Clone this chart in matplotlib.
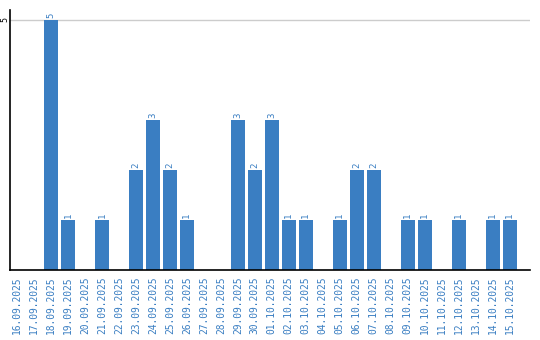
import matplotlib
matplotlib.use("Agg")
import matplotlib.pyplot as plt

dates = ["16.09.2025", "17.09.2025", "18.09.2025", "19.09.2025", "20.09.2025",
         "21.09.2025", "22.09.2025", "23.09.2025", "24.09.2025", "25.09.2025",
         "26.09.2025", "27.09.2025", "28.09.2025", "29.09.2025", "30.09.2025",
         "01.10.2025", "02.10.2025", "03.10.2025", "04.10.2025", "05.10.2025",
         "06.10.2025", "07.10.2025", "08.10.2025", "09.10.2025", "10.10.2025",
         "11.10.2025", "12.10.2025", "13.10.2025", "14.10.2025", "15.10.2025"]
values = [0, 0, 5, 1, 0, 1, 0, 2, 3, 2, 1, 0, 0, 3, 2, 3, 1, 1, 0, 1, 2, 2, 0, 1, 1, 0, 1, 0, 1, 1]
y_ticks = [5]

bar_color = "#3a7ec2"
text_color = "#3a7ec2"

fig = plt.figure(figsize=(5.4, 3.4), dpi=100)
ax = fig.add_axes([0.0194, 0.206, 0.9620, 0.7646])

x = list(range(len(dates)))
ax.bar(x, values, width=0.82, color=bar_color, zorder=2)
for xi, v in zip(x, values):
    if v > 0:
        ax.annotate(str(v), (xi, v), xytext=(0, 1.5), textcoords="offset points",
                    rotation=90, ha="center", va="bottom", fontsize=6.5,
                    family="DejaVu Sans Mono", color=text_color)

ax.set_xlim(-0.38, 30.2)
ax.set_ylim(0, 5.2)
ax.set_yticks(y_ticks)
ax.set_yticklabels([str(t) for t in y_ticks], rotation=90, va="center",
                   fontsize=6, family="DejaVu Sans Mono")
ax.yaxis.grid(True, color="#cccccc", linewidth=1, zorder=0)
ax.set_xticks(x)
ax.set_xticklabels(dates, rotation=90, fontsize=6.9, family="DejaVu Sans Mono",
                   color=text_color, va="top")
ax.tick_params(axis="both", length=0)
ax.tick_params(axis="x", pad=5)
ax.tick_params(axis="y", pad=0.5)
for s in ["top", "right"]:
    ax.spines[s].set_visible(False)
ax.spines["left"].set_color("black")
ax.spines["bottom"].set_color("black")
ax.spines["left"].set_linewidth(1.2)
ax.spines["bottom"].set_linewidth(1.2)

fig.savefig("out.png", dpi=100)
